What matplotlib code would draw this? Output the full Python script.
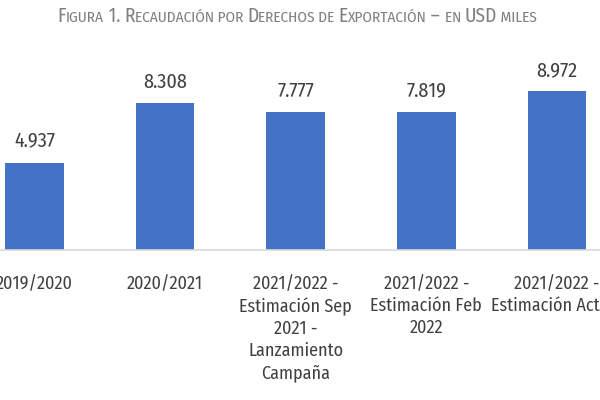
import matplotlib
matplotlib.use("Agg")
import matplotlib.pyplot as plt
import numpy as np

# data (USD miles)
categories = ["2019/2020",
              "2020/2021",
              "2021/2022 -\nEstimación Sep\n2021 -\nLanzamiento\nCampaña",
              "2021/2022 -\nEstimación Feb\n2022",
              "2021/2022 -\nEstimación Actual"]
values = [4937, 8308, 7777, 7819, 8972]

title_parts = [("F", True), ("IGURA", False), (" 1. ", True), ("R", True), ("ECAUDACIÓN POR ", False),
               ("D", True), ("ERECHOS DE ", False), ("E", True), ("XPORTACIÓN", False), (" – ", True),
               ("EN ", False), ("USD", True), (" MILES", False)]

bar_color = "#4472C4"
text_color = "#404040"
font = ["Fira Sans Condensed", "Asap Condensed", "Lato"]

fig = plt.figure(figsize=(6, 4), dpi=100)
ax = fig.add_axes([0, 0.375, 1, 0.475])

x = np.arange(len(categories))
bars = ax.bar(x, values, width=0.45, color=bar_color)
ax.bar_label(bars, labels=[f"{v:,}".replace(",", ".") for v in values],
             padding=8, fontsize=14.5, color=text_color, family=font)

ax.set_xlim(-0.264, 4.33)
ax.set_ylim(0, 10730)
ax.set_xticks(x)
ax.set_xticklabels(categories, fontsize=13, color=text_color, family=font, linespacing=1.3)
ax.tick_params(axis="x", length=0, pad=18)
ax.set_yticks([])
for s in ["top", "right", "left"]:
    ax.spines[s].set_visible(False)
ax.spines["bottom"].set_color("#d9d9d9")
ax.spines["bottom"].set_linewidth(1.2)

# small caps title built from pieces
renderer = fig.canvas.get_renderer()
pieces = []
for txt, big in title_parts:
    t = fig.text(0, 0.945, txt, fontsize=14 if big else 11, color="#7f7f7f",
                 family=font, ha="left", va="baseline")
    pieces.append(t)
widths = [p.get_window_extent(renderer).width for p in pieces]
total = sum(widths)
start = 297 - total / 2
for p, w in zip(pieces, widths):
    p.set_x(start / 600)
    start += w

fig.savefig("out.png", dpi=100)
